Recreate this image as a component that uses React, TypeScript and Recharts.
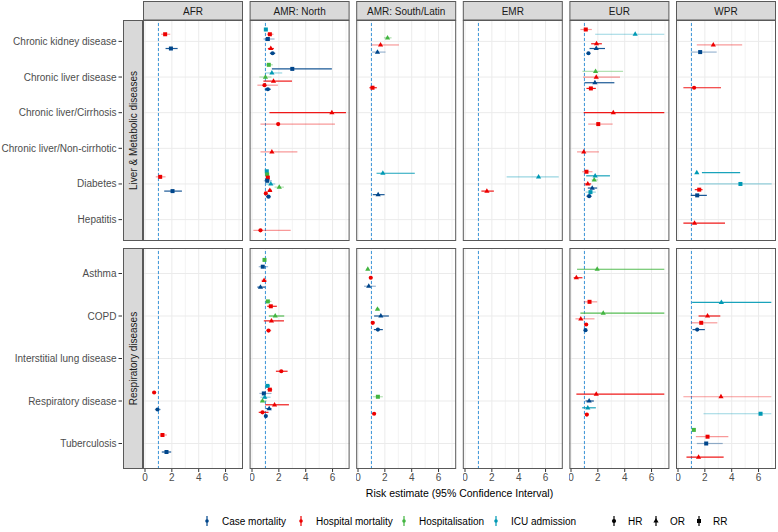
import React from 'react';
import { ScatterChart, Scatter, XAxis, YAxis, ReferenceLine } from 'recharts';

type Row = [string, string?, string?, number?, number?, number?, number?];

const regions = ['AFR', 'AMR: North', 'AMR: South/Latin', 'EMR', 'EUR', 'WPR'];
const diseaseGroups = ['Liver & Metabolic diseases', 'Respiratory diseases'];
const liverConditions = ['CKD', 'CLD', 'CIR', 'NCI', 'DIA', 'HEP'];
const respConditions = ['AST', 'COPD', 'ILD', 'RES', 'TB'];
const conditionLabels: Record<string, string> = {
  CKD: 'Chronic kidney disease',
  CLD: 'Chronic liver disease',
  CIR: 'Chronic liver/Cirrhosis',
  NCI: 'Chronic liver/Non-cirrhotic',
  DIA: 'Diabetes',
  HEP: 'Hepatitis',
  AST: 'Asthma',
  COPD: 'COPD',
  ILD: 'Interstitial lung disease',
  RES: 'Respiratory disease',
  TB: 'Tuberculosis',
};
const outcomes = ['C', 'H', 'S', 'I'];
const outcomeLabels = ['Case mortality', 'Hospital mortality', 'Hospitalisation', 'ICU admission'];
const outcomeColors = ['#00468B', '#ED0000', '#42B540', '#0099B4'];
const measures = ['HR', 'OR', 'RR'];
const xTicks = [0, 2, 4, 6];
const xGrid = [0, 1, 2, 3, 4, 5, 6, 7];

// [condition, outcome, measure, estimate, lower, upper, adjusted]; a bare condition = not estimable
const afrRows: Row[] = [
  ['CKD', 'H', 'RR', 1.5, 1.2, 1.88, 0],
  ['CKD', 'C', 'RR', 1.93, 1.53, 2.43, 1],
  ['DIA', 'H', 'RR', 1.13, 0.8, 1.53, 0],
  ['DIA', 'C', 'RR', 2.05, 1.43, 2.75, 1],
  ['RES', 'H', 'HR', 0.68, 0.6, 0.75, 1],
  ['RES', 'C', 'HR', 0.93, 0.73, 1.18, 0],
  ['TB', 'H', 'RR', 1.3, 1.08, 1.63, 0],
  ['TB', 'C', 'RR', 1.6, 1.25, 1.95, 1],
];

const amrNorthRows: Row[] = [
  ['CKD', 'I', 'RR', 1.03, 0.93, 1.13, 1],
  ['CKD', 'H', 'RR', 1.33, 1.1, 1.6, 0],
  ['CKD', 'C', 'RR', 1.18, 0.85, 1.68, 0],
  ['CKD'],
  ['CKD', 'H', 'OR', 1.4, 1.18, 1.63, 1],
  ['CKD', 'C', 'HR', 1.53, 1.33, 1.73, 1],
  ['CLD', 'S', 'RR', 1.25, 1.05, 1.55, 0],
  ['CLD', 'C', 'RR', 3.0, 1.48, 5.95, 1],
  ['CLD', 'I', 'OR', 1.48, 1.0, 2.25, 0],
  ['CLD', 'S', 'OR', 1.0, 0.55, 1.45, 0],
  ['CLD', 'H', 'OR', 1.6, 0.85, 2.98, 1],
  ['CLD', 'H', 'HR', 0.93, 0.4, 1.93, 0],
  ['CLD', 'C', 'HR', 1.18, 0.95, 1.4, 1],
  ['CIR'],
  ['CIR'],
  ['CIR', 'H', 'OR', 5.95, 1.3, 7.0, 1],
  ['CIR'],
  ['CIR', 'H', 'HR', 1.95, 0.63, 6.18, 0],
  ['NCI'],
  ['NCI'],
  ['NCI', 'H', 'OR', 1.48, 0.63, 3.38, 0],
  ['NCI'],
  ['DIA', 'I', 'RR', 1.1, 1.0, 1.2, 1],
  ['DIA', 'S', 'RR', 1.13, 1.05, 1.18, 1],
  ['DIA', 'H', 'RR', 1.18, 1.1, 1.25, 1],
  ['DIA', 'C', 'RR', 1.13, 0.88, 1.48, 0],
  ['DIA', 'I', 'OR', 1.4, 1.05, 1.73, 0],
  ['DIA', 'S', 'OR', 2.03, 1.68, 2.38, 0],
  ['DIA', 'H', 'OR', 1.33, 1.18, 1.48, 1],
  ['DIA', 'H', 'HR', 1.03, 0.95, 1.1, 1],
  ['DIA', 'C', 'HR', 1.23, 1.05, 1.38, 1],
  ['HEP'],
  ['HEP'],
  ['HEP'],
  ['HEP', 'H', 'HR', 0.63, 0.1, 2.88, 0],
  ['AST', 'S', 'RR', 0.93, 0.85, 1.05, 0],
  ['AST', 'C', 'RR', 0.8, 0.5, 1.2, 0],
  ['AST'],
  ['AST', 'H', 'OR', 0.9, 0.7, 1.1, 0],
  ['AST', 'C', 'OR', 0.63, 0.4, 0.98, 1],
  ['COPD', 'S', 'RR', 1.18, 0.98, 1.45, 0],
  ['COPD', 'H', 'RR', 1.4, 1.13, 1.85, 1],
  ['COPD'],
  ['COPD', 'S', 'OR', 1.73, 1.25, 2.4, 1],
  ['COPD', 'H', 'OR', 1.45, 0.88, 2.38, 1],
  ['COPD'],
  ['COPD', 'H', 'HR', 1.23, 1.05, 1.43, 0],
  ['ILD'],
  ['ILD'],
  ['ILD'],
  ['ILD', 'H', 'HR', 2.18, 1.78, 2.65, 1],
  ['RES', 'I', 'RR', 1.15, 0.98, 1.33, 1],
  ['RES', 'H', 'RR', 1.33, 1.15, 1.5, 1],
  ['RES', 'C', 'RR', 0.88, 0.55, 1.45, 0],
  ['RES', 'I', 'OR', 0.95, 0.63, 1.38, 0],
  ['RES', 'S', 'OR', 0.78, 0.6, 1.1, 0],
  ['RES', 'H', 'OR', 1.68, 0.98, 2.75, 1],
  ['RES', 'C', 'OR', 1.28, 1.05, 1.45, 1],
  ['RES', 'H', 'HR', 0.78, 0.5, 1.23, 1],
  ['RES', 'C', 'HR', 1.03, 0.95, 1.1, 1],
];

const amrSouthRows: Row[] = [
  ['CKD'],
  ['CKD', 'S', 'OR', 2.2, 1.93, 2.5, 0],
  ['CKD', 'H', 'OR', 1.68, 1.0, 3.05, 0],
  ['CKD', 'C', 'OR', 1.45, 1.05, 2.05, 0],
  ['CLD'],
  ['CLD'],
  ['CLD'],
  ['CLD', 'H', 'RR', 1.08, 0.85, 1.4, 1],
  ['DIA', 'I', 'OR', 1.85, 1.38, 4.23, 1],
  ['DIA'],
  ['DIA'],
  ['DIA', 'C', 'OR', 1.5, 1.1, 1.98, 1],
  ['AST'],
  ['AST', 'S', 'OR', 0.73, 0.65, 0.8, 1],
  ['AST', 'H', 'HR', 0.95, 0.88, 1.03, 1],
  ['AST', 'C', 'OR', 0.8, 0.45, 1.33, 0],
  ['COPD'],
  ['COPD', 'S', 'OR', 1.45, 1.33, 1.6, 1],
  ['COPD', 'C', 'OR', 1.7, 1.2, 2.3, 1],
  ['COPD', 'H', 'HR', 1.1, 1.03, 1.18, 1],
  ['COPD', 'C', 'HR', 1.48, 1.18, 1.85, 1],
  ['RES'],
  ['RES', 'S', 'RR', 1.48, 1.1, 1.85, 0],
  ['RES'],
  ['RES', 'H', 'HR', 1.2, 1.1, 1.3, 1],
];

const emrRows: Row[] = [
  ['DIA', 'I', 'OR', 5.48, 3.1, 6.98, 0],
  ['DIA', 'H', 'OR', 1.63, 1.22, 2.15, 1],
];

const eurRows: Row[] = [
  ['CKD', 'H', 'RR', 1.1, 0.7, 1.55, 0],
  ['CKD', 'I', 'OR', 4.78, 1.8, 6.95, 0],
  ['CKD'],
  ['CKD', 'H', 'OR', 1.9, 1.5, 2.3, 1],
  ['CKD', 'C', 'OR', 1.88, 1.38, 2.53, 1],
  ['CKD', 'C', 'HR', 1.3, 1.2, 1.4, 1],
  ['CLD'],
  ['CLD', 'S', 'OR', 1.83, 0.85, 3.88, 0],
  ['CLD', 'H', 'OR', 1.88, 0.9, 3.65, 0],
  ['CLD', 'C', 'OR', 1.78, 1.0, 3.23, 1],
  ['CLD', 'H', 'RR', 1.48, 1.15, 1.85, 1],
  ['CIR'],
  ['CIR'],
  ['CIR', 'H', 'OR', 3.15, 0.95, 6.95, 1],
  ['CIR'],
  ['CIR', 'H', 'RR', 2.03, 1.28, 3.1, 0],
  ['NCI'],
  ['NCI'],
  ['NCI', 'H', 'OR', 0.95, 0.45, 2.08, 0],
  ['NCI'],
  ['DIA', 'H', 'RR', 1.15, 0.83, 1.6, 0],
  ['DIA', 'I', 'OR', 1.8, 1.13, 2.9, 1],
  ['DIA', 'S', 'OR', 1.73, 1.53, 2.0, 0],
  ['DIA', 'H', 'OR', 1.25, 1.0, 1.5, 1],
  ['DIA', 'C', 'OR', 1.58, 1.25, 1.95, 1],
  ['DIA', 'I', 'RR', 1.45, 1.08, 1.85, 0],
  ['DIA', 'C', 'HR', 1.35, 1.15, 1.53, 1],
  ['AST'],
  ['AST', 'S', 'OR', 1.95, 0.45, 6.95, 1],
  ['AST', 'H', 'OR', 0.4, 0.2, 0.85, 1],
  ['AST'],
  ['COPD', 'H', 'RR', 1.38, 0.95, 1.95, 0],
  ['COPD'],
  ['COPD', 'S', 'OR', 2.4, 0.7, 6.95, 1],
  ['COPD', 'H', 'OR', 0.73, 0.33, 1.75, 0],
  ['COPD', 'H', 'HR', 1.13, 1.05, 1.2, 1],
  ['COPD', 'C', 'HR', 1.08, 1.0, 1.15, 1],
  ['RES'],
  ['RES', 'H', 'OR', 1.88, 0.4, 6.95, 1],
  ['RES', 'C', 'OR', 1.35, 1.08, 1.7, 1],
  ['RES', 'I', 'OR', 1.25, 0.83, 1.85, 1],
  ['RES', 'H', 'HR', 1.18, 1.1, 1.25, 1],
];

const wprRows: Row[] = [
  ['CKD'],
  ['CKD'],
  ['CKD', 'H', 'OR', 2.63, 1.4, 4.78, 0],
  ['CKD', 'C', 'RR', 1.65, 0.95, 2.88, 0],
  ['CLD'],
  ['CLD'],
  ['CLD'],
  ['CLD', 'H', 'HR', 1.2, 0.4, 3.2, 1],
  ['DIA', 'I', 'OR', 1.4, 1.78, 4.63, 1],
  ['DIA'],
  ['DIA', 'I', 'RR', 4.65, 1.55, 6.98, 0],
  ['DIA', 'H', 'RR', 1.58, 1.25, 1.83, 1],
  ['DIA', 'C', 'RR', 1.43, 0.95, 2.15, 1],
  ['HEP'],
  ['HEP'],
  ['HEP', 'H', 'OR', 1.23, 0.4, 3.5, 1],
  ['HEP'],
  ['COPD', 'I', 'OR', 3.23, 1.05, 6.95, 1],
  ['COPD'],
  ['COPD', 'H', 'OR', 2.2, 1.53, 3.15, 1],
  ['COPD', 'H', 'RR', 1.73, 0.98, 2.93, 0],
  ['COPD', 'C', 'HR', 1.43, 1.08, 2.0, 1],
  ['RES'],
  ['RES', 'H', 'OR', 3.2, 0.4, 6.95, 0],
  ['RES'],
  ['RES', 'I', 'RR', 6.15, 1.9, 6.95, 0],
  ['TB', 'S', 'RR', 1.18, 1.1, 1.25, 1],
  ['TB', 'H', 'RR', 2.2, 1.33, 3.75, 0],
  ['TB', 'C', 'RR', 2.1, 1.4, 3.33, 0],
  ['TB'],
  ['TB', 'H', 'OR', 1.53, 0.63, 3.4, 1],
];

const regionRows = [afrRows, amrNorthRows, amrSouthRows, emrRows, eurRows, wprRows];

const X_DOMAIN: [number, number] = [-0.15, 7.3];
const DODGE = 0.8;
const PANEL_W = 100;
const PANEL_H = 221;
const PANEL_STEP = 106.6;
const PANEL_X0 = 143;
const ROW_TOPS = [20, 248];
const BORDER = '#595959';
const FONT = 'Arial, "Liberation Sans", Helvetica, sans-serif';

function buildPoints(rows: Row[], conds: string[]) {
  const pts: any[] = [];
  conds.forEach((c, ci) => {
    const list = rows.filter((r) => r[0] === c);
    const n = list.length;
    list.forEach((r, k) => {
      if (r.length < 4) return;
      pts.push({
        y: ci + 1 + (k - (n - 1) / 2) * (DODGE / n),
        est: r[3],
        lo: r[4],
        hi: r[5],
        color: outcomeColors[outcomes.indexOf(r[1] as string)],
        measure: r[2],
        adj: r[6],
      });
    });
  });
  return pts;
}

function Marker({ cx, cy, color, measure }: any) {
  if (measure === 'OR') {
    return <polygon points={`${cx},${cy - 2.9} ${cx - 2.6},${cy + 1.6} ${cx + 2.6},${cy + 1.6}`} fill={color} />;
  }
  if (measure === 'RR') {
    return <rect x={cx - 2} y={cy - 2} width={4} height={4} fill={color} />;
  }
  return <circle cx={cx} cy={cy} r={2.1} fill={color} />;
}

const renderPoint = (props: any) => {
  const { cx, cy, payload } = props;
  return <Marker cx={cx} cy={cy} color={payload.color} measure={payload.measure} />;
};

const CondTick = (props: any) => {
  const { y, payload, conds } = props;
  return (
    <g>
      <line x1={118.5} x2={122} y1={y} y2={y} stroke="#333333" />
      <text x={116.5} y={y} dy="0.35em" textAnchor="end" fontSize={10} fill="#4D4D4D" fontFamily={FONT}>
        {conditionLabels[conds[payload.value - 1]]}
      </text>
    </g>
  );
};

function Panel({ rows, conds, col, rowIdx }: { rows: Row[]; conds: string[]; col: number; rowIdx: number }) {
  const pts = buildPoints(rows, conds);
  const showY = col === 0;
  const showX = rowIdx === 1;
  const left = showY ? 0 : PANEL_X0 + col * PANEL_STEP;
  const width = (showY ? PANEL_X0 : 0) + PANEL_W;
  const height = PANEL_H + (showX ? 22 : 0);
  return (
    <div style={{ position: 'absolute', left, top: ROW_TOPS[rowIdx] }}>
      <ScatterChart width={width} height={height} margin={{ top: 0, right: 0, bottom: 0, left: 0 }}>
        <XAxis
          type="number"
          dataKey="est"
          domain={X_DOMAIN}
          ticks={xTicks}
          interval={0}
          hide={!showX}
          height={22}
          tickSize={3}
          tickLine={{ stroke: '#333333' }}
          axisLine={false}
          tick={{ fontSize: 10, fill: '#4D4D4D', fontFamily: FONT }}
          allowDataOverflow
        />
        <YAxis
          type="number"
          dataKey="y"
          domain={[0.4, conds.length + 0.6]}
          reversed
          ticks={conds.map((_, i) => i + 1)}
          interval={0}
          hide={!showY}
          width={PANEL_X0}
          tickLine={false}
          axisLine={false}
          tick={(p: any) => <CondTick {...p} conds={conds} />}
          allowDataOverflow
        />
        {xGrid.map((v) => (
          <ReferenceLine key={'gx' + v} x={v} stroke={v % 2 === 0 ? '#EBEBEB' : '#F3F3F3'} strokeWidth={1} />
        ))}
        {conds.map((_, i) => (
          <ReferenceLine key={'gy' + i} y={i + 1} stroke="#EBEBEB" strokeWidth={1} />
        ))}
        <ReferenceLine x={1} stroke="#3B94D9" strokeDasharray="3 2" strokeWidth={1} />
        {pts.map((p, i) => (
          <ReferenceLine
            key={'ci' + i}
            segment={[
              { x: p.lo, y: p.y },
              { x: p.hi, y: p.y },
            ]}
            stroke={p.color}
            strokeOpacity={p.adj ? 0.9 : 0.4}
            strokeWidth={1.2}
            ifOverflow="visible"
          />
        ))}
        <Scatter data={pts} shape={renderPoint} isAnimationActive={false} />
      </ScatterChart>
    </div>
  );
}

function Overlay() {
  const outcomeKeyX = [207, 301, 404, 496];
  const measureKeyX = [614, 656, 699];
  const ly = 521;
  return (
    <svg width={778} height={532} style={{ position: 'absolute', left: 0, top: 0, pointerEvents: 'none' }} fontFamily={FONT}>
      {regions.map((r, i) => {
        const x = PANEL_X0 + i * PANEL_STEP;
        return (
          <g key={r}>
            <rect x={x + 0.5} y={1.5} width={PANEL_W - 1} height={18.5} fill="#D9D9D9" stroke={BORDER} />
            <text x={x + PANEL_W / 2} y={14.5} textAnchor="middle" fontSize={10} fill="#1A1A1A">
              {r}
            </text>
            {ROW_TOPS.map((t) => (
              <rect key={t} x={x + 0.5} y={t + 0.5} width={PANEL_W - 1} height={PANEL_H - 1} fill="none" stroke={BORDER} />
            ))}
          </g>
        );
      })}
      {diseaseGroups.map((g, i) => (
        <g key={g}>
          <rect x={123.5} y={ROW_TOPS[i] + 0.5} width={19} height={PANEL_H - 1} fill="#D9D9D9" stroke={BORDER} />
          <text
            transform={`translate(133.5, ${ROW_TOPS[i] + PANEL_H / 2}) rotate(-90)`}
            textAnchor="middle"
            dy="0.35em"
            fontSize={10}
            fill="#1A1A1A"
          >
            {g}
          </text>
        </g>
      ))}
      <text x={459.5} y={497} textAnchor="middle" fontSize={10.5} fill="#000000">
        Risk estimate (95% Confidence Interval)
      </text>
      {outcomeLabels.map((lab, i) => (
        <g key={lab}>
          <line x1={outcomeKeyX[i]} x2={outcomeKeyX[i]} y1={ly - 5} y2={ly + 5} stroke={outcomeColors[i]} strokeWidth={1.2} />
          <circle cx={outcomeKeyX[i]} cy={ly} r={1.8} fill={outcomeColors[i]} />
          <text x={outcomeKeyX[i] + 15} y={ly} dy="0.35em" fontSize={10} fill="#000000">
            {lab}
          </text>
        </g>
      ))}
      {measures.map((m, i) => (
        <g key={m}>
          <line x1={measureKeyX[i]} x2={measureKeyX[i]} y1={ly - 5} y2={ly + 5} stroke="#000000" strokeWidth={1.2} />
          <Marker cx={measureKeyX[i]} cy={ly} color="#000000" measure={m} />
          <text x={measureKeyX[i] + 14} y={ly} dy="0.35em" fontSize={10} fill="#000000">
            {m}
          </text>
        </g>
      ))}
    </svg>
  );
}

export default function App() {
  return (
    <div style={{ position: 'absolute', left: 0, top: 0, width: 778, height: 532, background: '#FFFFFF', fontFamily: FONT }}>
      {[liverConditions, respConditions].map((conds, rowIdx) =>
        regionRows.map((rows, col) => <Panel key={rowIdx + '-' + col} rows={rows} conds={conds} col={col} rowIdx={rowIdx} />)
      )}
      <Overlay />
    </div>
  );
}
